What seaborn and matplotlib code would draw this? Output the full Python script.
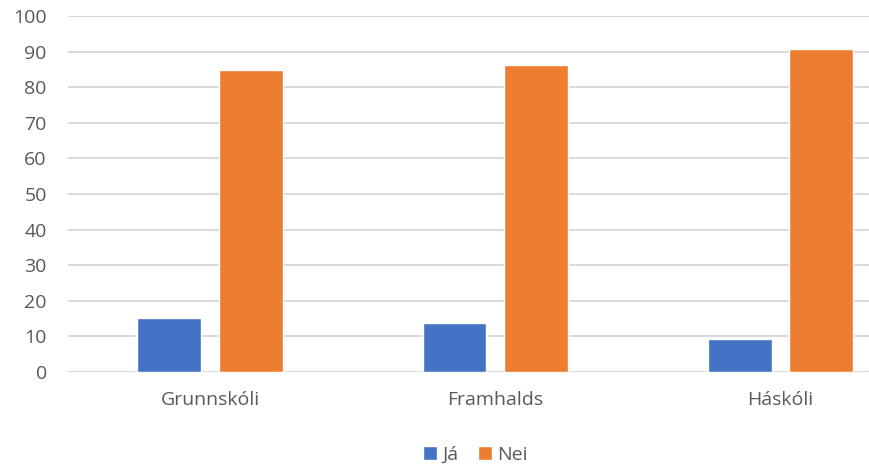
import matplotlib.pyplot as plt
import pandas as pd
import seaborn as sns

# values
categories = ["Grunnskóli", "Framhalds", "Háskóli"]
ja_values = [15.1, 13.8, 9.3]
nei_values = [84.9, 86.2, 90.7]
series_names = ["Já", "Nei"]
yticks = list(range(0, 101, 10))

df = pd.DataFrame({
    "flokkur": categories * 2,
    "svar": [series_names[0]] * 3 + [series_names[1]] * 3,
    "hlutfall": ja_values + nei_values,
})

sns.set_style("white")
plt.rcParams["font.family"] = ["Open Sans", "DejaVu Sans"]

fig = plt.figure(figsize=(8.69, 4.67), dpi=100)
ax = fig.add_axes([67.7 / 869, 1 - 371.7 / 467, 1 - 67.7 / 869, (371.7 - 16.3) / 467])

sns.barplot(data=df, x="flokkur", y="hlutfall", hue="svar",
            palette=["#4472C4", "#ED7D31"], width=0.573, gap=0.217,
            saturation=1, ax=ax, legend=True)

ax.set_ylim(0, 100)
ax.set_xlim(-0.5, 2 + (869 - 780.5) / 285)
ax.set_yticks(yticks)
ax.yaxis.grid(True, color="#D9D9D9", linewidth=1.4)
ax.set_axisbelow(True)
for s in ax.spines.values():
    s.set_visible(False)
ax.tick_params(axis="both", length=0, labelsize=14, colors="#595959")
ax.tick_params(axis="y", pad=15)
ax.tick_params(axis="x", pad=14)
ax.set_xlabel("")
ax.set_ylabel("")

ax.legend_.remove()
handles, labels = ax.get_legend_handles_labels()
fig.legend(handles, labels, loc="center", bbox_to_anchor=(475.5 / 869, 1 - 455 / 467),
           ncol=2, frameon=False, fontsize=14, handlelength=0.7, handleheight=0.7,
           handletextpad=0.3, columnspacing=1.0, labelcolor="#595959")

fig.savefig("out.png", dpi=100)
